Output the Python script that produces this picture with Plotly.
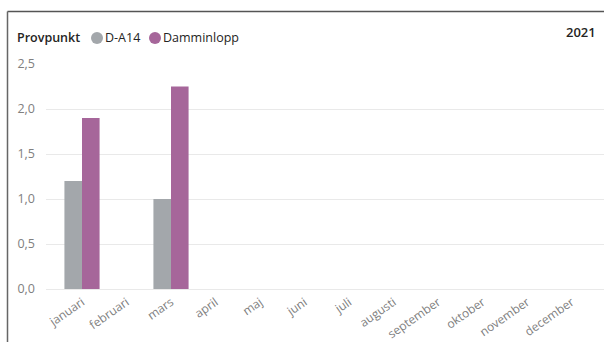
import plotly.graph_objects as go

# Monthly readings per sampling point
months = ["januari", "februari", "mars", "april", "maj", "juni", "juli",
          "augusti", "september", "oktober", "november", "december"]
d_a14 = [1.2, None, 1.0, None, None, None, None, None, None, None, None, None]
damminlopp = [1.9, None, 2.25, None, None, None, None, None, None, None, None, None]
y_ticks = [0.0, 0.5, 1.0, 1.5, 2.0, 2.5]
series = [("D-A14", d_a14), ("Damminlopp", damminlopp)]

GREY = "#A3A7AB"
PURPLE = "#A6669A"
colors = [GREY, PURPLE]
FONT = "Open Sans"
DARK = "#252423"

W, H = 604, 342
L, R, T, B = 46, 0, 64, 53
plot_w = W - L - R
plot_h = H - T - B


def px_x(px):
    return (px - L) / plot_w


def px_y(py):
    return (H - B - py) / plot_h


fig = go.Figure()

for (name, vals), col in zip(series, colors):
    fig.add_trace(go.Bar(
        x=months, y=vals, name=name, marker=dict(color=col, line=dict(width=0)),
        showlegend=False,
    ))

span = plot_w / 44.5
start = -(82 - L) / 44.5

# legend drawn as round swatches plus labels
legend_y = 38
annotations = [
    dict(text="Provpunkt", xref="paper", yref="paper", x=px_x(15), y=px_y(legend_y),
         xanchor="left", yanchor="middle", showarrow=False,
         font=dict(size=12.5, color=DARK, family=FONT, weight=600)),
    dict(text="2021", xref="paper", yref="paper", x=px_x(598), y=px_y(32),
         xanchor="right", yanchor="middle", showarrow=False,
         font=dict(size=13, color=DARK, family=FONT, weight=600)),
]
shapes = []
swatch_x = [97, 155]
for (name, _), col, cx in zip(series, colors, swatch_x):
    shapes.append(dict(type="circle", xref="paper", yref="paper",
                       x0=px_x(cx - 6), x1=px_x(cx + 6),
                       y0=px_y(legend_y - 6), y1=px_y(legend_y + 6),
                       fillcolor=col, line=dict(width=0)))
    annotations.append(dict(text=name, xref="paper", yref="paper",
                            x=px_x(cx + 6), y=px_y(legend_y),
                            xanchor="left", yanchor="middle", showarrow=False,
                            font=dict(size=12.5, color=DARK, family=FONT)))

# card frame (top and left edges)
shapes += [
    dict(type="line", xref="paper", yref="paper",
         x0=px_x(7.5), x1=px_x(W + 2), y0=px_y(11.5), y1=px_y(11.5),
         line=dict(color="#555555", width=1.5)),
    dict(type="line", xref="paper", yref="paper",
         x0=px_x(7.5), x1=px_x(7.5), y0=px_y(11.5), y1=px_y(H + 2),
         line=dict(color="#666666", width=1.5)),
]

fig.update_layout(
    width=W, height=H,
    margin=dict(l=L, r=R, t=T, b=B, pad=0, autoexpand=False),
    paper_bgcolor="white", plot_bgcolor="white",
    font=dict(family=FONT, size=12, color="#777777"),
    separators=", ",
    barmode="group", bargap=0.21, bargroupgap=0,
    showlegend=False,
    xaxis=dict(
        type="category", range=[start, start + span], automargin=False,
        tickangle=-35, showgrid=False, showline=False, zeroline=False,
        tickfont=dict(size=12, color="#808080"),
        ticks="", ticklabelstandoff=3,
    ),
    yaxis=dict(
        range=[0, 2.5], tickvals=y_ticks, tickformat=".1f", automargin=False,
        showgrid=True, gridcolor="#E9E9E9", gridwidth=1,
        zeroline=True, zerolinecolor="#E9E9E9", zerolinewidth=1,
        showline=False, ticks="", ticklabelstandoff=10,
        tickfont=dict(size=12.5, color="#808080"),
    ),
    annotations=annotations,
    shapes=shapes,
)

fig.write_html("out.html")
